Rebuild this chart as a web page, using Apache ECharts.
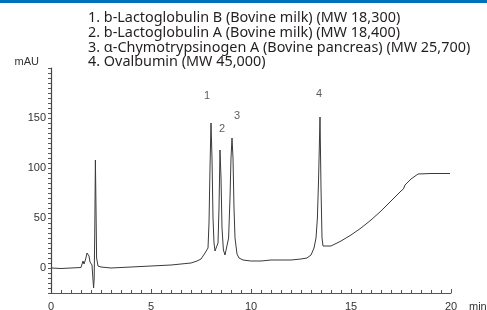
<!DOCTYPE html>
<html>
<head>
<meta charset="utf-8">
<script src="https://cdn.jsdelivr.net/npm/echarts@6/dist/echarts.min.js"></script>
<style>
  html, body { margin: 0; padding: 0; background: #fff; }
  #chart { width: 487px; height: 310px; }
</style>
</head>
<body>
<div id="chart"></div>
<script>
// peak legend lines
var legendLines = [
    '1. b-Lactoglobulin B (Bovine milk) (MW 18,300)',
    '2. b-Lactoglobulin A (Bovine milk) (MW 18,400)',
    '3. \u03b1-Chymotrypsinogen A (Bovine pancreas) (MW 25,700)',
    '4. Ovalbumin (MW 45,000)'
];

// chromatogram: time (min) and absorbance (mAU)
var times = [
    0, 0.5, 1.0, 1.5, 1.55, 1.6, 1.65, 1.72, 1.8, 1.85, 1.9, 1.95, 2.0, 2.05, 2.1, 2.13, 2.16, 2.19, 2.22, 2.25, 2.28, 2.35, 2.5,
    3, 4, 5, 6, 6.5, 7, 7.3, 7.5, 7.6, 7.7, 7.75, 7.8, 7.85, 7.9, 7.95, 8.0, 8.05, 8.1, 8.15, 8.2, 8.28,
    8.35, 8.4, 8.45, 8.5, 8.55, 8.62, 8.7, 8.8, 8.88, 8.95, 9.0, 9.05, 9.1, 9.15, 9.2, 9.3, 9.4, 9.6,
    10, 10.5, 11, 12, 12.5, 12.8, 13.0, 13.15, 13.25, 13.32, 13.38, 13.45, 13.5, 13.55, 13.6, 13.7,
    14, 14.5, 15, 15.5, 16, 16.5, 17, 17.5, 17.62, 17.7, 18, 18.35, 19, 19.5, 19.95
];
var mau = [
    0, -0.5, 0, 0.5, 1, 7, 4, 8, 15, 16, 12, 6, 7, 3, -12, -20, -10, 40, 108, 60, 10, 2, 1,
    0, 1, 2, 3, 4, 5, 7, 9, 12, 15, 13, 14, 20, 45, 100, 145, 110, 50, 25, 17, 15,
    25, 60, 118, 90, 40, 18, 13, 14, 30, 70, 110, 130, 110, 60, 30, 14, 10, 8,
    7, 7, 8, 8, 9, 10, 13, 20, 30, 50, 90, 151, 80, 30, 22, 20,
    22, 27, 33, 40, 48, 57, 67, 77, 79, 83, 89, 94, 94.5, 94.5, 94.5
];

// peak numbers placed above each apex
var peakIds = ['1', '2', '3', '4'];
var peakTimes = [8.0, 8.45, 9.05, 13.45];
var peakHeights = [145, 118, 130, 151];

var yMin = -25, yMax = 200, xMin = 0, xMax = 20;

var curve = times.map(function (t, i) { return [t, mau[i]]; });
var labelOffsets = [[-4, -16], [2, -10], [5, -11], [-1, -12]];
var peakPoints = peakIds.map(function (id, i) {
    return {
        value: [peakTimes[i], peakHeights[i]],
        label: { show: true, formatter: id, position: 'top', offset: labelOffsets[i] }
    };
});

var axisColor = '#555';
var textColor = '#333';
var font = 'Liberation Sans, Arial, sans-serif';

var option = {
    animation: false,
    graphic: [
        { type: 'rect', left: 0, top: 0, shape: { width: 487, height: 3 }, style: { fill: '#0072bc' } }
    ],
    title: {
        text: legendLines.join('\n'),
        left: 88,
        top: 11,
        padding: 0,
        textStyle: {
            fontFamily: 'Noto Sans, sans-serif',
            fontSize: 14.4,
            fontWeight: 'normal',
            lineHeight: 14.6,
            color: '#231f20'
        }
    },
    grid: { left: 51, right: 36, top: 68, bottom: 17, containLabel: false, outerBoundsMode: 'none' },
    xAxis: {
        type: 'value',
        min: xMin,
        max: xMax,
        interval: 5,
        name: 'min',
        nameLocation: 'end',
        nameGap: 18,
        nameTextStyle: { color: textColor, fontFamily: font, fontSize: 11, verticalAlign: 'top', padding: [8, 0, 0, 0] },
        axisLine: { show: true, onZero: false, lineStyle: { color: axisColor, width: 1 } },
        axisTick: { show: true, inside: true, length: 4, lineStyle: { color: axisColor } },
        minorTick: { show: true, splitNumber: 10, length: 3, lineStyle: { color: axisColor } },
        splitLine: { show: false },
        minorSplitLine: { show: false },
        axisLabel: { color: textColor, fontFamily: font, fontSize: 11, margin: 8 }
    },
    yAxis: {
        type: 'value',
        position: 'left',
        min: yMin,
        max: yMax,
        interval: 25,
        name: 'mAU',
        nameLocation: 'end',
        nameGap: 1,
        nameTextStyle: { color: textColor, fontFamily: font, fontSize: 11, align: 'right', padding: [0, 12, 0, 0] },
        axisLine: { show: true, onZero: false, lineStyle: { color: '#444', width: 1.2 } },
        axisTick: { show: true, length: 3, lineStyle: { color: axisColor } },
        minorTick: { show: true, splitNumber: 5, length: 3, lineStyle: { color: axisColor } },
        splitLine: { show: false },
        minorSplitLine: { show: false },
        axisLabel: {
            color: textColor,
            fontFamily: font,
            fontSize: 11,
            margin: 5,
            formatter: function (v) { return (v % 50 === 0 && v >= 0 && v < yMax) ? String(v) : ''; }
        }
    },
    series: [
        {
            type: 'line',
            data: curve,
            clip: false,
            showSymbol: false,
            symbol: 'none',
            lineStyle: { color: '#3a3a3a', width: 1 },
            z: 3,
            // vertical axis line at t = 0
            markLine: {
                silent: true,
                symbol: 'none',
                label: { show: false },
                lineStyle: { color: '#444', width: 1, type: 'solid' },
                data: [[{ coord: [xMin, yMin] }, { coord: [xMin, yMax] }]]
            }
        },
        {
            type: 'scatter',
            data: peakPoints,
            symbolSize: 1,
            itemStyle: { color: 'rgba(0,0,0,0)' },
            label: { color: textColor, fontFamily: font, fontSize: 11 },
            z: 4
        }
    ]
};

var chart = echarts.init(document.getElementById('chart'));
chart.setOption(option);
</script>
</body>
</html>
